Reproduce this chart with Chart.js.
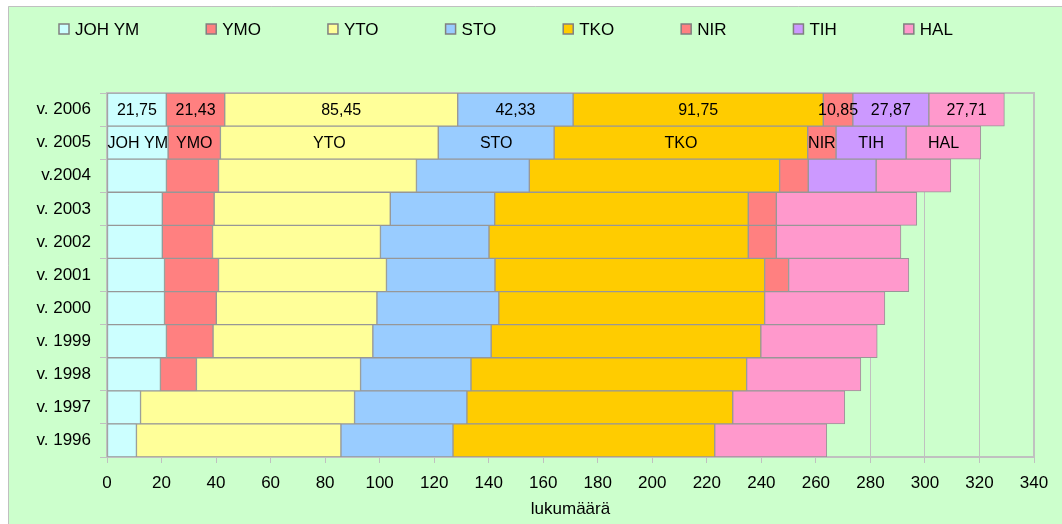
<!DOCTYPE html>
<html>
<head>
<meta charset="utf-8">
<script src="https://cdn.jsdelivr.net/npm/chart.js@4/dist/chart.umd.min.js"></script>
<style>
  html, body { margin: 0; padding: 0; background: #ffffff; }
  #c { display: block; }
</style>
</head>
<body>
<canvas id="c" width="1062" height="524"></canvas>
<script>
// ---- data ----
const categories = ['v. 2006', 'v. 2005', 'v.2004', 'v. 2003', 'v. 2002', 'v. 2001', 'v. 2000', 'v. 1999', 'v. 1998', 'v. 1997', 'v. 1996'];
const seriesNames = ['JOH YM', 'YMO', 'YTO', 'STO', 'TKO', 'NIR', 'TIH', 'HAL'];
const johYm = [21.75, 22.4, 21.8, 20.3, 20.3, 21.1, 21.1, 21.8, 19.6, 12.3, 10.8];
const ymo   = [21.43, 19.2, 19.1, 19.0, 18.4, 19.8, 19.0, 17.1, 13.2, null, null];
const yto   = [85.45, 79.9, 72.6, 64.6, 61.6, 61.6, 58.9, 58.6, 60.2, 78.5, 75.0];
const sto   = [42.33, 42.5, 41.4, 38.3, 39.8, 39.8, 44.7, 43.4, 40.5, 41.2, 41.1];
const tko   = [91.75, 93.0, 91.8, 93.0, 95.1, 98.9, 97.5, 98.9, 101.1, 97.5, 96.0];
const nir   = [10.85, 10.4, 10.5, 10.3, 10.3, 8.8, null, null, null, null, null];
const tih   = [27.87, 25.7, 24.9, null, null, null, null, null, null, null, null];
const hal   = [27.71, 27.4, 27.4, 51.5, 45.7, 44.1, 44.1, 42.7, 41.9, 41.1, 41.1];
const seriesValues = [johYm, ymo, yto, sto, tko, nir, tih, hal];
const seriesColors = ['#CCFFFF', '#FF8080', '#FFFF99', '#99CCFF', '#FFCC00', '#FF8080', '#CC99FF', '#FF99CC'];
const valueLabelRow = 'v. 2006';   // row labelled with values
const nameLabelRow = 'v. 2005';    // row labelled with series names
const xTickMin = 0, xTickMax = 340, xTickStep = 20;
const xTitle = 'lukumäärä';

const FONT = "'Liberation Sans', Arial, sans-serif";
const GREEN = '#CCFFCC';
const GRID = '#C0C0C0';

const datasets = seriesNames.map((name, i) => ({
  label: name,
  data: seriesValues[i],
  backgroundColor: seriesColors[i],
  borderColor: '#979797',
  borderWidth: 1,
  borderSkipped: false,
  barPercentage: 1,
  categoryPercentage: 1
}));

const backgroundPlugin = {
  id: 'bg',
  beforeDraw(chart) {
    const ctx = chart.ctx;
    ctx.save();
    ctx.fillStyle = '#ffffff';
    ctx.fillRect(0, 0, chart.width, chart.height);
    ctx.fillStyle = GREEN;
    ctx.fillRect(8, 6, chart.width - 8, chart.height - 6);
    ctx.strokeStyle = GRID;
    ctx.lineWidth = 1;
    ctx.beginPath();
    ctx.moveTo(8.5, chart.height);
    ctx.lineTo(8.5, 6.5);
    ctx.lineTo(chart.width, 6.5);
    ctx.stroke();
    ctx.restore();
  },
  beforeDatasetsDraw(chart) {
    const a = chart.chartArea;
    const ctx = chart.ctx;
    ctx.save();
    ctx.strokeStyle = GRID;
    ctx.lineWidth = 2;
    ctx.strokeRect(a.left, a.top, a.right - a.left, a.bottom - a.top);
    ctx.restore();
  }
};

const labelPlugin = {
  id: 'barLabels',
  afterDatasetsDraw(chart) {
    const ctx = chart.ctx;
    const vi = chart.data.labels.indexOf(valueLabelRow);
    const ni = chart.data.labels.indexOf(nameLabelRow);
    ctx.save();
    ctx.font = '16px ' + FONT;
    ctx.fillStyle = '#000';
    ctx.textAlign = 'center';
    ctx.textBaseline = 'middle';
    chart.data.datasets.forEach((ds, d) => {
      const meta = chart.getDatasetMeta(d);
      [[vi, v => v.toFixed(2).replace('.', ',')], [ni, () => ds.label]].forEach(([idx, fmt]) => {
        const v = ds.data[idx];
        if (idx < 0 || v == null) return;
        const p = meta.data[idx].getCenterPoint();
        ctx.fillText(fmt(v), p.x, p.y + 1);
      });
    });
    ctx.restore();
  }
};

const legendPlugin = {
  id: 'customLegend',
  afterDraw(chart) {
    const ctx = chart.ctx;
    ctx.save();
    ctx.font = '17px ' + FONT;
    ctx.textBaseline = 'middle';
    ctx.textAlign = 'left';
    let x = 59;
    const cy = 29;
    const box = 10;
    chart.data.datasets.forEach(ds => {
      ctx.fillStyle = ds.backgroundColor;
      ctx.fillRect(x, cy - box / 2, box, box);
      ctx.strokeStyle = '#808080';
      ctx.lineWidth = 1.5;
      ctx.strokeRect(x, cy - box / 2, box, box);
      ctx.fillStyle = '#000';
      ctx.fillText(ds.label, x + box + 6, cy + 1);
      x += box + 6 + ctx.measureText(ds.label).width + 67;
    });
    ctx.restore();
  }
};

new Chart(document.getElementById('c'), {
  type: 'bar',
  data: { labels: categories, datasets },
  plugins: [backgroundPlugin, labelPlugin, legendPlugin],
  options: {
    responsive: false,
    animation: false,
    devicePixelRatio: 1,
    indexAxis: 'y',
    layout: { padding: { left: 0, top: 93, right: 28, bottom: 0 } },
    plugins: { legend: { display: false }, tooltip: { enabled: false } },
    scales: {
      x: {
        stacked: true,
        min: xTickMin,
        max: xTickMax,
        ticks: { stepSize: xTickStep, color: '#000', font: { family: FONT, size: 17 }, padding: 10, maxRotation: 0, autoSkip: false },
        grid: { color: GRID, lineWidth: 1, tickLength: 6 },
        border: { display: false },
        title: { display: true, text: xTitle, color: '#000', font: { family: FONT, size: 17 }, padding: { top: 0, bottom: 4 } },
        afterFit(s) { s.height = 67; }
      },
      y: {
        stacked: true,
        ticks: { color: '#000', font: { family: FONT, size: 17 }, padding: 9, autoSkip: false },
        grid: { drawOnChartArea: false, color: GRID, tickLength: 7, offset: true },
        border: { display: false },
        afterFit(s) { s.width = 107; }
      }
    }
  }
});
</script>
</body>
</html>
